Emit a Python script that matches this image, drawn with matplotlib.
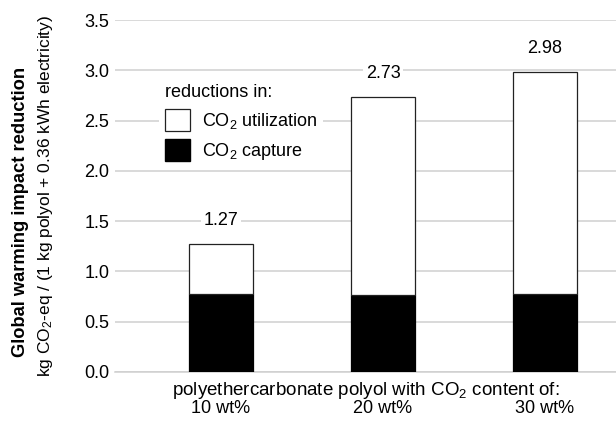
import matplotlib
matplotlib.use("Agg")
import matplotlib.pyplot as plt
from matplotlib.patches import Patch
import numpy as np

plt.rcParams['font.family'] = ['Liberation Sans', 'DejaVu Sans']
plt.rcParams['mathtext.fontset'] = 'custom'
plt.rcParams['mathtext.rm'] = 'Liberation Sans'
plt.rcParams['mathtext.it'] = 'Liberation Sans:italic'
plt.rcParams['mathtext.bf'] = 'Liberation Sans:bold'

# data
categories = ['10 wt%', '20 wt%', '30 wt%']
capture = [0.78, 0.77, 0.78]
totals = [1.27, 2.73, 2.98]
utilization = [t - c for t, c in zip(totals, capture)]
yticks = [0.0, 0.5, 1.0, 1.5, 2.0, 2.5, 3.0, 3.5]

grid_col = '#cfcfcf'
edge_col = '#222222'
fs = 13

fig = plt.figure(figsize=(6.16, 4.23), dpi=100)
ax = fig.add_axes([0.1867, 0.1206, 0.8133, 0.8321])

x = np.arange(len(categories))
w = 0.4
ax.bar(x, capture, w, color='black', edgecolor='black', linewidth=0.9, zorder=3)
ax.bar(x, utilization, w, bottom=capture, color='white', edgecolor=edge_col,
       linewidth=0.9, zorder=3)

# totals above the bars, white box hides the grid line behind
for xi, t in zip(x, totals):
    ax.text(xi, t + 0.19, f'{t:.2f}', ha='center', va='baseline', fontsize=fs,
            bbox=dict(facecolor='white', edgecolor='none', pad=1.5), zorder=4)

ax.set_ylim(0, 3.5)
ax.set_xlim(-0.654, 2.438)
ax.set_yticks(yticks)
ax.set_yticklabels([f'{v:.1f}' for v in yticks], fontsize=fs)
ax.yaxis.grid(True, color=grid_col, linewidth=1.1, zorder=0)
ax.set_axisbelow(True)
ax.tick_params(axis='y', length=0, pad=4)
ax.tick_params(axis='x', length=0, pad=20)
ax.set_xticks(x)
ax.set_xticklabels(categories, fontsize=fs)
for s in ['left', 'right', 'top']:
    ax.spines[s].set_visible(False)
ax.spines['bottom'].set_color(grid_col)
ax.spines['bottom'].set_linewidth(1.1)

ax.text(0.5, -0.024, 'polyethercarbonate polyol with CO$_2$ content of:',
        transform=ax.transAxes, ha='center', va='top', fontsize=13.5)

fig.text(0.034, 0.50, 'Global warming impact reduction', rotation=90,
         ha='center', va='center', fontsize=13.2, fontweight='bold')
fig.text(0.074, 0.538, 'kg CO$_2$-eq / (1 kg polyol + 0.36 kWh electricity)',
         rotation=90, ha='center', va='center', fontsize=12.5)

handles = [Patch(facecolor='white', edgecolor=edge_col, linewidth=0.9, label='CO$_2$ utilization'),
           Patch(facecolor='black', edgecolor='black', label='CO$_2$ capture')]
leg = ax.legend(handles=handles, title='reductions in:', loc='upper left',
                bbox_to_anchor=(0.07, 0.86), frameon=True, fontsize=fs,
                title_fontsize=fs, handlelength=1.4, handleheight=1.5,
                borderpad=0.3, labelspacing=0.45, handletextpad=0.7)
leg._legend_box.align = 'left'
leg.get_frame().set_edgecolor('none')
leg.get_frame().set_facecolor('white')
leg.get_frame().set_alpha(1)
leg.set_zorder(5)

fig.savefig('out.png', dpi=100)
